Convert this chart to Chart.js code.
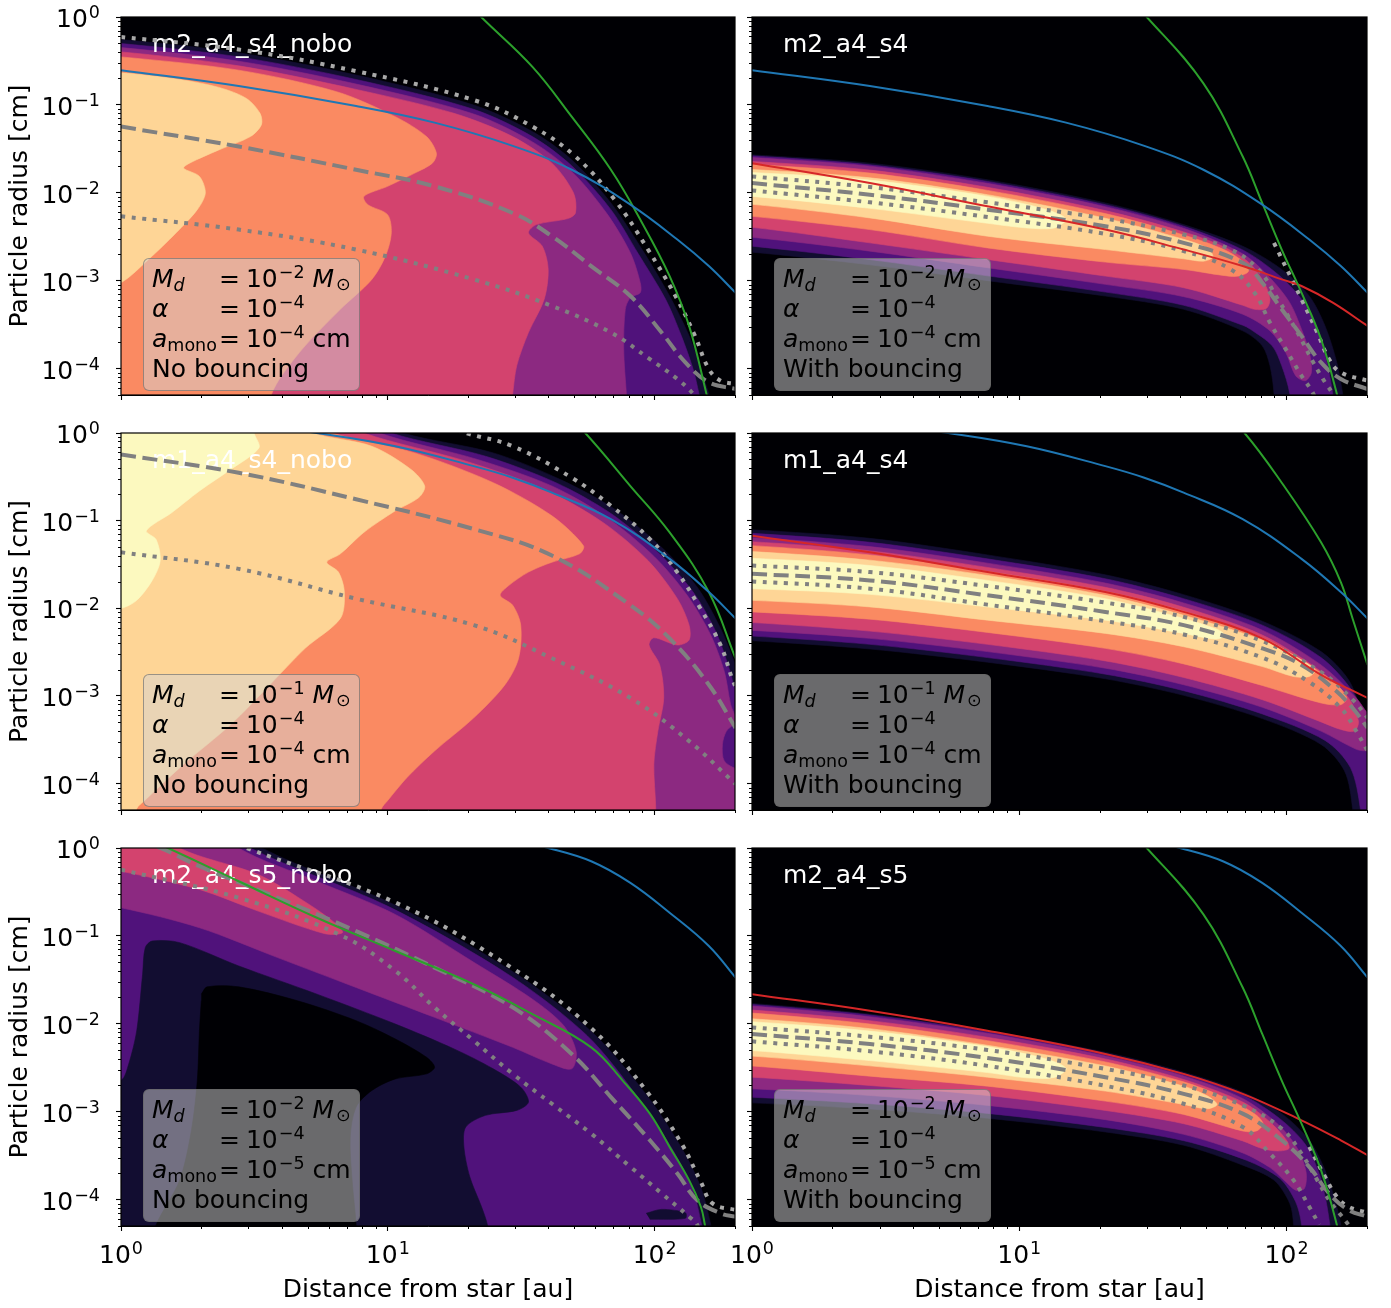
<!DOCTYPE html>
<html lang="en">
<head>
<meta charset="utf-8">
<title>Particle size distributions</title>
<script src="https://cdn.jsdelivr.net/npm/chart.js@4.4.1/dist/chart.umd.min.js"></script>
<style>
  body { margin: 0; background: #fff; }
  #figure { position: relative; width: 1391px; height: 1308px; font-family: 'DejaVu Sans', sans-serif; }
  #figure canvas { position: absolute; }
  .infoBox {
    position: absolute; width: 217px; height: 133px; box-sizing: border-box;
    padding: 5px 0 0 8px; border: 1.5px solid rgba(100, 100, 100, 0.6); border-radius: 6px;
    background: rgba(211, 211, 211, 0.5); font-size: 25px; line-height: 30px; color: #000; white-space: nowrap;
  }
  .infoBox .row { height: 30px; }
  .infoBox .key { display: inline-block; width: 67px; }
  .infoBox .eq { margin-right: 6px; }
  .infoBox .up { font-size: 17.5px; position: relative; top: -9px; vertical-align: baseline; margin-left: 1px; }
  .infoBox .dn { font-size: 17.5px; position: relative; top: 4px; vertical-align: baseline; }
  .infoBox .sun { font-size: 17.5px; position: relative; top: 3px; vertical-align: baseline; margin-left: 2px; }
</style>
</head>
<body>
<div id="figure"></div>
<script>
// ---- ticks (log10 axes) ----
const xMajorTicks = [1, 10, 100];
const xTickExponents = ['0', '1', '2'];
const xMinorTicks = [2, 3, 4, 5, 6, 7, 8, 9, 20, 30, 40, 50, 60, 70, 80, 90, 200];
const yMajorTicks = [1, 0.1, 0.01, 0.001, 0.0001];
const yTickExponents = ['0', '−1', '−2', '−3', '−4'];
const yMinorTicks = [5e-5, 6e-5, 7e-5, 8e-5, 9e-5, 2e-4, 3e-4, 4e-4, 5e-4, 6e-4, 7e-4, 8e-4, 9e-4,
  2e-3, 3e-3, 4e-3, 5e-3, 6e-3, 7e-3, 8e-3, 9e-3, 0.02, 0.03, 0.04, 0.05, 0.06, 0.07, 0.08, 0.09,
  0.2, 0.3, 0.4, 0.5, 0.6, 0.7, 0.8, 0.9];

// ---- runs ----
const runNames = ['m2_a4_s4_nobo', 'm2_a4_s4', 'm1_a4_s4_nobo', 'm1_a4_s4', 'm2_a4_s5_nobo', 'm2_a4_s5'];
const diskMassExp = ['−2', '−2', '−1', '−1', '−2', '−2'];
const alphaExp = ['−4', '−4', '−4', '−4', '−4', '−4'];
const monomerExp = ['−4', '−4', '−4', '−4', '−5', '−5'];
const bouncingText = ['No bouncing', 'With bouncing', 'No bouncing', 'With bouncing', 'No bouncing', 'With bouncing'];

// ---- contour outlines, [log10 r/au, log10 a/cm] ----
// m2_a4_s4_nobo
const m2s4noboNavy = [[-0.1,-0.26],[0,-0.257],[0.441,-0.408],[0.881,-0.661],[1.322,-1.002],[1.542,-1.304],[1.689,-1.625],[1.836,-2.116],[1.953,-2.646],[2.056,-3.175],[2.129,-3.628],[2.173,-4.006],[2.203,-4.286],[2.23,-4.5],[-0.1,-4.5]];
const m2s4noboIndigo = [[-0.1,-0.30],[0,-0.302],[0.441,-0.454],[0.881,-0.711],[1.322,-1.051],[1.542,-1.361],[1.689,-1.693],[1.836,-2.192],[1.938,-2.691],[2.041,-3.212],[2.100,-3.628],[2.144,-4.006],[2.166,-4.286],[2.18,-4.5],[-0.1,-4.5]];
const m2s4noboPurple = [[-0.1,-0.35],[0,-0.348],[0.441,-0.503],[0.881,-0.763],[1.322,-1.104],[1.542,-1.421],[1.689,-1.757],[1.821,-2.237],[1.909,-2.683],[1.946,-3.023],[1.946,-3.137],[1.909,-3.193],[1.890,-3.326],[1.884,-3.779],[1.894,-4.286],[1.9,-4.5],[-0.1,-4.5]];
const m2s4noboPink = [[-0.1,-0.40],[0,-0.397],[0.441,-0.556],[0.881,-0.824],[1.248,-1.096],[1.468,-1.361],[1.615,-1.663],[1.696,-2.003],[1.703,-2.230],[1.674,-2.294],[1.557,-2.362],[1.527,-2.457],[1.579,-2.608],[1.601,-2.872],[1.586,-3.212],[1.527,-3.590],[1.483,-3.968],[1.468,-4.286],[1.46,-4.5],[-0.1,-4.5]];
const m2s4noboSalmon = [[-0.1,-0.45],[0,-0.454],[0.441,-0.605],[0.808,-0.850],[1.028,-1.134],[1.145,-1.361],[1.182,-1.550],[1.167,-1.663],[1.101,-1.776],[0.999,-1.927],[0.910,-2.041],[0.925,-2.135],[0.999,-2.249],[1.013,-2.457],[0.991,-2.721],[0.940,-2.986],[0.822,-3.326],[0.690,-3.741],[0.602,-4.082],[0.565,-4.286],[0.55,-4.5],[-0.1,-4.5]];
const m2s4noboPeach = [[-0.1,-0.63],[0,-0.635],[0.220,-0.711],[0.367,-0.801],[0.470,-0.926],[0.521,-1.096],[0.526,-1.228],[0.485,-1.361],[0.367,-1.512],[0.257,-1.663],[0.235,-1.720],[0.294,-1.814],[0.316,-2.003],[0.286,-2.192],[0.206,-2.457],[0.103,-2.759],[0,-3.023],[-0.1,-3.1]];
// m2_a4_s4
const m2s4Navy = [[-0.1,-1.56],[0,-1.568],[0.441,-1.663],[0.881,-1.852],[1.322,-2.116],[1.615,-2.362],[1.836,-2.608],[1.982,-2.872],[2.085,-3.175],[2.144,-3.515],[2.188,-3.930],[2.210,-4.286],[2.22,-4.5],[1.95,-4.5],[1.953,-4.286],[1.938,-3.968],[1.909,-3.741],[1.836,-3.571],[1.615,-3.326],[1.322,-3.175],[0.881,-3.000],[0.441,-2.820],[0,-2.676],[-0.1,-2.67]];
const m2s4Indigo = [[-0.1,-1.574],[0,-1.580],[0.441,-1.682],[0.881,-1.871],[1.322,-2.136],[1.615,-2.381],[1.836,-2.650],[1.968,-2.929],[2.056,-3.212],[2.115,-3.553],[2.151,-3.930],[2.173,-4.286],[2.18,-4.5],[2.01,-4.5],[2.012,-4.286],[1.982,-3.968],[1.946,-3.741],[1.865,-3.553],[1.836,-3.507],[1.615,-3.280],[1.322,-3.130],[0.881,-2.945],[0.441,-2.760],[0,-2.608],[-0.1,-2.60]];
const m2s4Purple = [[-0.1,-1.597],[0,-1.599],[0.441,-1.697],[0.881,-1.893],[1.322,-2.158],[1.615,-2.404],[1.836,-2.695],[1.938,-2.967],[2.012,-3.250],[2.056,-3.553],[2.085,-3.817],[2.093,-4.044],[2.070,-4.138],[2.034,-4.082],[1.997,-3.817],[1.938,-3.571],[1.836,-3.382],[1.615,-3.182],[1.322,-3.042],[0.881,-2.853],[0.441,-2.664],[0,-2.506],[-0.1,-2.50]];
const m2s4Pink = [[-0.1,-1.643],[0,-1.644],[0.441,-1.742],[0.881,-1.938],[1.322,-2.203],[1.615,-2.445],[1.762,-2.610],[1.858,-2.790],[1.916,-3.023],[1.938,-3.212],[1.924,-3.318],[1.880,-3.326],[1.836,-3.280],[1.615,-3.080],[1.322,-2.948],[0.881,-2.759],[0.441,-2.570],[0,-2.393],[-0.1,-2.39]];
const m2s4Salmon = [[-0.1,-1.682],[0,-1.678],[0.441,-1.776],[0.881,-1.973],[1.322,-2.237],[1.615,-2.480],[1.762,-2.640],[1.836,-2.780],[1.858,-2.891],[1.821,-2.948],[1.762,-2.940],[1.615,-2.872],[1.322,-2.789],[0.881,-2.627],[0.441,-2.419],[0,-2.268],[-0.1,-2.26]];
const m2s4Peach = [[-0.1,-1.73],[0,-1.735],[0.441,-1.830],[0.881,-2.022],[1.322,-2.290],[1.615,-2.530],[1.703,-2.630],[1.725,-2.729],[1.689,-2.778],[1.615,-2.751],[1.322,-2.646],[0.881,-2.494],[0.441,-2.286],[0,-2.131],[-0.1,-2.13]];
const m2s4Cream = [[-0.1,-1.767],[0,-1.769],[0.441,-1.856],[0.881,-2.041],[1.101,-2.190],[1.175,-2.300],[1.131,-2.400],[1.028,-2.400],[0.881,-2.347],[0.441,-2.177],[0,-2.041],[-0.1,-2.04]];
// m1_a4_s4_nobo
const m1s4noboNavy = [[0.95,0.2],[1.03,0.11],[1.057,0],[1.395,-0.227],[1.645,-0.529],[1.850,-0.869],[2.026,-1.304],[2.159,-1.757],[2.247,-2.230],[2.303,-2.646],[2.35,-3.02],[2.4,-4.5],[-0.1,-4.5],[-0.1,0.2]];
const m1s4noboIndigo = [[0.95,0.2],[0.99,0.11],[1.013,0],[1.366,-0.265],[1.630,-0.567],[1.836,-0.918],[2.012,-1.361],[2.144,-1.814],[2.232,-2.286],[2.283,-2.721],[2.303,-2.910],[2.4,-3.2],[2.4,-4.5],[-0.1,-4.5],[-0.1,0.2]];
const m1s4noboPurple = [[0.92,0.2],[0.95,0.11],[0.969,0],[1.336,-0.302],[1.615,-0.605],[1.821,-0.964],[1.997,-1.406],[2.122,-1.852],[2.210,-2.305],[2.261,-2.721],[2.285,-3.099],[2.305,-3.288],[2.269,-3.401],[2.254,-3.553],[2.261,-3.741],[2.313,-3.836],[2.4,-3.85],[2.4,-4.5],[-0.1,-4.5],[-0.1,0.2]];
const m1s4noboPink = [[0.88,0.2],[0.89,0.11],[0.910,0],[1.292,-0.321],[1.586,-0.642],[1.806,-1.020],[1.975,-1.455],[2.085,-1.890],[2.129,-2.192],[2.129,-2.362],[2.085,-2.419],[1.997,-2.336],[1.979,-2.419],[2.019,-2.646],[2.034,-3.023],[2.012,-3.401],[1.997,-3.779],[2.004,-4.286],[2.0,-4.5],[-0.1,-4.5],[-0.1,0.2]];
const m1s4noboSalmon = [[0.76,0.2],[0.77,0.11],[0.793,0],[1.101,-0.227],[1.395,-0.567],[1.615,-0.945],[1.733,-1.285],[1.718,-1.379],[1.615,-1.474],[1.527,-1.587],[1.454,-1.738],[1.421,-1.852],[1.468,-1.965],[1.498,-2.192],[1.490,-2.570],[1.439,-2.872],[1.322,-3.250],[1.175,-3.628],[1.072,-3.930],[0.999,-4.195],[0.976,-4.286],[0.96,-4.5],[-0.1,-4.5],[-0.1,0.2]];
const m1s4noboPeach = [[0.70,0.2],[0.70,0.11],[0.720,0],[0.940,-0.151],[1.087,-0.416],[1.138,-0.605],[1.116,-0.737],[1.028,-0.888],[0.910,-1.134],[0.822,-1.379],[0.771,-1.474],[0.815,-1.587],[0.837,-1.814],[0.822,-2.116],[0.690,-2.457],[0.558,-2.872],[0.411,-3.326],[0.235,-3.779],[0.088,-4.195],[0.059,-4.286],[0.05,-4.5],[-0.1,-4.5],[-0.1,0.2]];
const m1s4noboCream = [[0.5,0.2],[0.5,0.11],[0.499,0],[0.517,-0.170],[0.411,-0.416],[0.294,-0.661],[0.191,-0.907],[0.095,-1.115],[0.132,-1.217],[0.147,-1.455],[0.117,-1.682],[0.059,-1.909],[0,-2.003],[-0.1,-2.05],[-0.1,0.2]];
// m1_a4_s4
const m1s4Navy = [[-0.1,-1.10],[0,-1.104],[0.441,-1.202],[0.881,-1.391],[1.322,-1.618],[1.615,-1.844],[1.909,-2.147],[2.129,-2.494],[2.232,-2.816],[2.283,-3.212],[2.303,-3.477],[2.35,-3.8],[2.35,-4.5],[2.24,-4.5],[2.247,-4.286],[2.217,-3.855],[2.129,-3.553],[1.909,-3.258],[1.615,-2.993],[1.322,-2.804],[0.881,-2.615],[0.441,-2.464],[0,-2.370],[-0.1,-2.37]];
const m1s4Indigo = [[-0.1,-1.145],[0,-1.145],[0.441,-1.247],[0.881,-1.436],[1.322,-1.663],[1.615,-1.890],[1.909,-2.192],[2.129,-2.562],[2.247,-2.948],[2.291,-3.288],[2.303,-3.401],[2.35,-3.6],[2.35,-4.5],[2.27,-4.5],[2.276,-4.286],[2.239,-3.817],[2.144,-3.507],[1.909,-3.205],[1.615,-2.940],[1.322,-2.751],[0.881,-2.562],[0.441,-2.411],[0,-2.317],[-0.1,-2.317]];
const m1s4Purple = [[-0.1,-1.195],[0,-1.194],[0.441,-1.296],[0.881,-1.485],[1.322,-1.712],[1.615,-1.939],[1.909,-2.249],[2.129,-2.646],[2.261,-3.023],[2.303,-3.193],[2.35,-3.3],[2.35,-3.63],[2.303,-3.628],[2.261,-3.609],[2.129,-3.401],[1.909,-3.129],[1.615,-2.872],[1.322,-2.683],[0.881,-2.494],[0.441,-2.343],[0,-2.252],[-0.1,-2.252]];
const m1s4Pink = [[-0.1,-1.24],[0,-1.240],[0.441,-1.345],[0.881,-1.534],[1.322,-1.761],[1.615,-1.988],[1.909,-2.305],[2.129,-2.721],[2.232,-3.023],[2.269,-3.288],[2.254,-3.401],[2.203,-3.382],[2.129,-3.296],[1.909,-3.042],[1.615,-2.789],[1.322,-2.600],[0.881,-2.411],[0.441,-2.260],[0,-2.162],[-0.1,-2.16]];
const m1s4Salmon = [[-0.1,-1.285],[0,-1.285],[0.441,-1.391],[0.881,-1.580],[1.322,-1.807],[1.615,-2.033],[1.909,-2.336],[2.085,-2.646],[2.188,-2.872],[2.225,-3.023],[2.203,-3.099],[2.129,-3.080],[1.909,-2.880],[1.615,-2.634],[1.322,-2.457],[0.881,-2.275],[0.441,-2.124],[0,-2.041],[-0.1,-2.04]];
const m1s4Peach = [[-0.1,-1.353],[0,-1.353],[0.441,-1.451],[0.881,-1.625],[1.322,-1.852],[1.615,-2.079],[1.909,-2.362],[2.056,-2.589],[2.107,-2.702],[2.085,-2.778],[2.026,-2.778],[1.909,-2.664],[1.615,-2.438],[1.322,-2.286],[0.881,-2.135],[0.441,-1.984],[0,-1.909],[-0.1,-1.909]];
const m1s4Cream = [[-0.1,-1.43],[0,-1.429],[0.441,-1.512],[0.881,-1.682],[1.322,-1.890],[1.615,-2.116],[1.747,-2.249],[1.769,-2.313],[1.733,-2.351],[1.615,-2.286],[1.322,-2.135],[0.881,-1.984],[0.441,-1.841],[0,-1.776],[-0.1,-1.776]];
// m2_a4_s5_nobo
const m2s5noboNavy = [[0.5,0.2],[0.529,0],[1.028,-0.650],[1.468,-1.406],[1.762,-2.086],[1.968,-2.804],[2.100,-3.409],[2.173,-3.862],[2.210,-4.286],[2.22,-4.5],[-0.1,-4.5],[-0.1,0.2]];
const m2s5noboIndigo = [[0.45,0.2],[0.485,0],[0.999,-0.661],[1.454,-1.444],[1.747,-2.135],[1.938,-2.842],[2.070,-3.447],[2.144,-3.900],[2.176,-4.286],[2.19,-4.5],[-0.1,-4.5],[-0.1,0.2]];
const m2s5noboNavyCore = [[-0.1,-2.70],[0,-2.646],[0.029,-2.457],[0.059,-2.079],[0.081,-1.436],[0.091,-1.134],[0.117,-1.058],[0.220,-1.077],[0.441,-1.342],[0.734,-1.663],[1.028,-2.003],[1.248,-2.286],[1.395,-2.513],[1.498,-2.721],[1.527,-2.891],[1.483,-2.986],[1.366,-3.042],[1.292,-3.175],[1.285,-3.401],[1.307,-3.741],[1.351,-4.082],[1.373,-4.286],[1.38,-4.5],[-0.1,-4.5]];
const m2s5noboVoid = [[0.301,-1.663],[0.323,-1.580],[0.441,-1.580],[0.661,-1.738],[0.881,-1.965],[1.028,-2.173],[1.145,-2.381],[1.175,-2.494],[1.145,-2.570],[1.028,-2.627],[0.940,-2.759],[0.881,-2.948],[0.859,-3.288],[0.866,-3.779],[0.881,-4.286],[0.88,-4.5],[0.12,-4.5],[0.132,-4.286],[0.220,-3.779],[0.264,-3.212],[0.286,-2.646],[0.294,-2.079],[0.301,-1.738]];
const m2s5noboNavySpot = [[1.968,-4.157],[2.026,-4.112],[2.115,-4.150],[2.115,-4.214],[1.982,-4.225]];
const m2s5noboPurple = [[-0.1,0.2],[0.42,0.2],[0.441,0],[0.734,-0.378],[1.028,-0.756],[1.322,-1.30],[1.542,-1.72],[1.659,-2.02],[1.706,-2.32],[1.689,-2.513],[1.615,-2.457],[1.468,-2.268],[1.175,-1.927],[0.881,-1.587],[0.587,-1.247],[0.294,-0.907],[0,-0.680],[-0.1,-0.66]];
const m2s5noboPink = [[-0.1,0.2],[0.2,0.2],[0.220,0],[0.514,-0.302],[0.705,-0.642],[0.808,-0.869],[0.830,-0.964],[0.764,-0.975],[0.514,-0.718],[0.294,-0.472],[0,-0.265],[-0.1,-0.24]];
// m2_a4_s5
const m2s5Navy = [[-0.1,-1.768],[0,-1.769],[0.441,-1.890],[0.881,-2.079],[1.322,-2.324],[1.615,-2.551],[1.836,-2.778],[1.982,-3.023],[2.085,-3.326],[2.144,-3.666],[2.181,-4.006],[2.203,-4.286],[2.21,-4.5],[2.02,-4.5],[2.026,-4.286],[2.012,-4.044],[1.953,-3.779],[1.836,-3.609],[1.615,-3.382],[1.322,-3.231],[0.881,-3.075],[0.441,-2.970],[0,-2.900],[-0.1,-2.90]];
const m2s5Indigo = [[-0.1,-1.781],[0,-1.781],[0.441,-1.901],[0.881,-2.090],[1.322,-2.344],[1.615,-2.570],[1.836,-2.810],[1.975,-3.080],[2.070,-3.371],[2.122,-3.704],[2.147,-4.006],[2.162,-4.286],[2.17,-4.5],[2.05,-4.5],[2.056,-4.286],[2.034,-4.025],[1.975,-3.760],[1.850,-3.553],[1.615,-3.330],[1.322,-3.180],[0.881,-3.020],[0.441,-2.910],[0,-2.836],[-0.1,-2.836]];
const m2s5Purple = [[-0.1,-1.799],[0,-1.799],[0.441,-1.920],[0.881,-2.109],[1.322,-2.366],[1.615,-2.593],[1.836,-2.850],[1.968,-3.144],[2.041,-3.420],[2.073,-3.685],[2.067,-3.874],[2.034,-3.893],[1.997,-3.798],[1.938,-3.636],[1.836,-3.469],[1.615,-3.258],[1.322,-3.091],[0.881,-2.929],[0.441,-2.816],[0,-2.740],[-0.1,-2.74]];
const m2s5Pink = [[-0.1,-1.844],[0,-1.844],[0.441,-1.965],[0.881,-2.154],[1.322,-2.400],[1.615,-2.634],[1.836,-2.890],[1.938,-3.118],[2.000,-3.326],[2.009,-3.420],[1.968,-3.447],[1.909,-3.420],[1.836,-3.333],[1.615,-3.137],[1.322,-2.986],[0.881,-2.816],[0.441,-2.702],[0,-2.608],[-0.1,-2.608]];
const m2s5Salmon = [[-0.1,-1.878],[0,-1.878],[0.441,-2.003],[0.881,-2.192],[1.322,-2.434],[1.615,-2.661],[1.762,-2.830],[1.880,-3.023],[1.912,-3.137],[1.887,-3.220],[1.836,-3.220],[1.615,-3.031],[1.322,-2.880],[0.881,-2.710],[0.441,-2.596],[0,-2.480],[-0.1,-2.48]];
const m2s5Peach = [[-0.1,-1.943],[0,-1.943],[0.441,-2.056],[0.881,-2.245],[1.322,-2.480],[1.615,-2.710],[1.703,-2.820],[1.740,-2.918],[1.703,-2.967],[1.615,-2.918],[1.322,-2.766],[0.881,-2.608],[0.441,-2.479],[0,-2.368],[-0.1,-2.368]];
const m2s5Cream = [[-0.1,-1.977],[0,-1.977],[0.441,-2.083],[0.881,-2.260],[1.101,-2.400],[1.175,-2.510],[1.131,-2.610],[1.028,-2.615],[0.881,-2.555],[0.441,-2.419],[0,-2.305],[-0.1,-2.305]];

// ---- curves, [log10 r/au, log10 a/cm] ----
const blueM2s4 = [[0,-0.605],[0.441,-0.786],[0.881,-1.013],[1.175,-1.202],[1.468,-1.466],[1.689,-1.738],[1.909,-2.135],[2.085,-2.532],[2.203,-2.834],[2.303,-3.137]];
const blueM1s4 = [[0.441,0.113],[0.734,0],[1.028,-0.151],[1.322,-0.378],[1.468,-0.510],[1.615,-0.680],[1.836,-0.983],[2.056,-1.436],[2.203,-1.814],[2.303,-2.116]];
const blueM2s5 = [[1.395,0.151],[1.601,0],[1.762,-0.151],[1.909,-0.397],[2.056,-0.737],[2.203,-1.115],[2.303,-1.474]];
const greenM2s4nobo = [[1.292,0.189],[1.350,0],[1.542,-0.567],[1.689,-1.134],[1.836,-1.738],[1.953,-2.343],[2.056,-2.948],[2.129,-3.515],[2.194,-4.286],[2.21,-4.5]];
const greenM2bounce = [[1.410,0.189],[1.477,0],[1.689,-0.756],[1.836,-1.587],[1.909,-2.116],[1.982,-2.646],[2.056,-3.137],[2.129,-3.666],[2.188,-4.286],[2.20,-4.5]];
const greenM1s4nobo = [[1.659,0.227],[1.740,0],[1.909,-0.605],[2.056,-1.134],[2.203,-1.814],[2.303,-2.570]];
const greenM1s4 = [[1.762,0.227],[1.843,0],[1.982,-0.567],[2.129,-1.247],[2.203,-1.701],[2.247,-2.116],[2.303,-2.646]];
const greenM2s5nobo = [[0.029,0.189],[0.176,0],[0.441,-0.378],[0.734,-0.794],[1.028,-1.172],[1.322,-1.550],[1.542,-1.890],[1.762,-2.268],[1.880,-2.646],[1.982,-3.023],[2.056,-3.401],[2.129,-3.779],[2.173,-4.082],[2.188,-4.286],[2.2,-4.5]];
const redM2s4 = [[0,-1.663],[0.441,-1.890],[0.881,-2.154],[1.322,-2.419],[1.615,-2.646],[1.836,-2.834],[1.982,-2.986],[2.056,-3.061],[2.173,-3.250],[2.303,-3.515]];
const redM1s4 = [[0,-1.172],[0.441,-1.361],[0.881,-1.587],[1.322,-1.814],[1.615,-2.041],[1.909,-2.343],[2.129,-2.759],[2.303,-3.023]];
const redM2s5 = [[0,-1.663],[0.441,-1.852],[0.881,-2.079],[1.322,-2.343],[1.615,-2.570],[1.836,-2.797],[2.056,-3.099],[2.203,-3.326],[2.303,-3.496]];

const m2s4noboOuterDots = [[0,-0.227],[0.441,-0.370],[0.881,-0.616],[1.322,-0.945],[1.542,-1.247],[1.703,-1.587],[1.850,-2.079],[1.975,-2.646],[2.078,-3.175],[2.151,-3.628],[2.203,-4.006],[2.247,-4.138],[2.303,-4.176]];
const m2s4noboDashed = [[0,-1.247],[0.441,-1.474],[0.881,-1.738],[1.175,-1.927],[1.468,-2.230],[1.615,-2.494],[1.762,-2.834],[1.909,-3.175],[2.026,-3.590],[2.115,-3.930],[2.203,-4.157],[2.303,-4.233]];
const m2s4noboInnerDots = [[0,-2.268],[0.441,-2.419],[0.881,-2.646],[1.322,-2.986],[1.615,-3.288],[1.836,-3.590],[1.982,-3.893],[2.085,-4.119],[2.144,-4.286],[2.2,-4.5]];
const m2s4Dashed = [[0,-1.890],[0.441,-2.022],[0.881,-2.192],[1.322,-2.381],[1.615,-2.570],[1.836,-2.797],[1.909,-3.023],[1.982,-3.326],[2.056,-3.628],[2.129,-3.930],[2.203,-4.119],[2.303,-4.233]];
const m2s4UpperDots = [[0,-1.814],[0.441,-1.935],[0.881,-2.109],[1.322,-2.294],[1.615,-2.475],[1.791,-2.646],[1.894,-2.872],[1.968,-3.212],[2.041,-3.590],[2.100,-3.930],[2.144,-4.157],[2.173,-4.286],[2.19,-4.4]];
const m2s4LowerDots = [[0,-1.973],[0.441,-2.109],[0.881,-2.275],[1.322,-2.468],[1.615,-2.664],[1.791,-2.872],[1.880,-3.137],[1.938,-3.477],[1.997,-3.779],[2.056,-4.082],[2.100,-4.286],[2.11,-4.4]];
const m2s4OuterDots = [[1.953,-2.570],[2.056,-3.212],[2.115,-3.590],[2.159,-3.893],[2.203,-4.044],[2.303,-4.138]];
const m1s4noboOuterDots = [[1.145,0.151],[1.292,0],[1.468,-0.151],[1.689,-0.510],[1.836,-0.830],[1.982,-1.210],[2.085,-1.590],[2.173,-2.010],[2.247,-2.420],[2.290,-2.800],[2.303,-2.90]];
const m1s4noboDashed = [[0,-0.246],[0.441,-0.454],[0.881,-0.756],[1.322,-1.096],[1.615,-1.398],[1.909,-1.965],[2.056,-2.343],[2.203,-2.872],[2.303,-3.364]];
const m1s4noboInnerDots = [[0,-1.361],[0.441,-1.550],[0.881,-1.890],[1.322,-2.192],[1.615,-2.570],[1.909,-3.023],[2.129,-3.515],[2.303,-4.006]];
const m1s4Dashed = [[0,-1.606],[0.441,-1.682],[0.881,-1.852],[1.322,-2.041],[1.615,-2.192],[1.909,-2.457],[2.056,-2.646],[2.173,-2.910],[2.247,-3.137],[2.303,-3.364]];
const m1s4UpperDots = [[0,-1.512],[0.441,-1.587],[0.881,-1.746],[1.322,-1.935],[1.615,-2.098],[1.909,-2.373],[2.129,-2.729],[2.247,-3.042],[2.303,-3.250]];
const m1s4LowerDots = [[0,-1.693],[0.441,-1.776],[0.881,-1.958],[1.322,-2.147],[1.615,-2.298],[1.909,-2.562],[2.085,-2.842],[2.203,-3.137],[2.261,-3.401],[2.303,-3.628]];
const m2s5noboOuterDots = [[0.40,0.1],[0.47,0],[1.028,-0.62],[1.468,-1.37],[1.762,-2.05],[1.968,-2.76],[2.100,-3.36],[2.173,-3.80],[2.217,-4.044],[2.303,-4.119]];
const m2s5noboDashed = [[0.059,0.076],[0.147,0],[0.294,-0.208],[0.587,-0.567],[0.881,-0.945],[1.175,-1.361],[1.468,-1.814],[1.689,-2.343],[1.836,-2.834],[1.982,-3.326],[2.085,-3.704],[2.159,-4.006],[2.247,-4.157],[2.303,-4.195]];
const m2s5noboInnerDots = [[0,-0.246],[0.441,-0.567],[0.822,-0.990],[1.028,-1.398],[1.175,-1.814],[1.322,-2.192],[1.468,-2.570],[1.615,-2.910],[1.762,-3.250],[1.909,-3.628],[2.026,-3.930],[2.129,-4.195],[2.159,-4.286],[2.18,-4.5]];
const m2s5Dashed = [[0,-2.116],[0.441,-2.230],[0.881,-2.389],[1.322,-2.608],[1.615,-2.797],[1.836,-3.023],[1.982,-3.326],[2.085,-3.628],[2.159,-3.930],[2.232,-4.119],[2.303,-4.195]];
const m2s5UpperDots = [[0,-2.041],[0.441,-2.147],[0.881,-2.298],[1.322,-2.513],[1.615,-2.702],[1.836,-2.929],[1.982,-3.193],[2.056,-3.477],[2.115,-3.779],[2.159,-4.006],[2.203,-4.176],[2.232,-4.286]];
const m2s5LowerDots = [[0,-2.200],[0.441,-2.313],[0.881,-2.479],[1.322,-2.706],[1.615,-2.910],[1.836,-3.175],[1.938,-3.477],[2.026,-3.779],[2.085,-4.082],[2.122,-4.286]];
const m2s5OuterDots = [[2.085,-3.401],[2.144,-3.741],[2.188,-3.968],[2.232,-4.082],[2.303,-4.150]];

// ---- styles ----
const levelColors = {
  navy: '#120d31', indigo: '#50127b', purple: '#8c2981', pink: '#d3436e',
  salmon: '#fa8a62', peach: '#fed596', cream: '#fcf9bf', empty: '#000004'
};
const lineStyles = {
  blue: { color: '#1f77b4', width: 2, dash: [] },
  green: { color: '#2ca02c', width: 2, dash: [] },
  red: { color: '#d62728', width: 2, dash: [] },
  dashed: { color: '#808080', width: 4, dash: [15, 6.5] },
  dots: { color: '#808080', width: 4, dash: [4, 6.6] },
  lightDots: { color: '#a9a9a9', width: 4, dash: [4, 6.6] }
};
const FONT = "'DejaVu Sans'";

// canvas slots: page position of each canvas and the margins around its plot area
const slots = [
  { left: 0,   top: 0,   width: 745, height: 415, padTop: 17, padRight: 10, yAxis: 121, xAxis: 20 },
  { left: 700, top: 0,   width: 691, height: 415, padTop: 17, padRight: 24, yAxis: 52,  xAxis: 20 },
  { left: 0,   top: 415, width: 745, height: 415, padTop: 18, padRight: 10, yAxis: 121, xAxis: 20 },
  { left: 700, top: 415, width: 691, height: 415, padTop: 18, padRight: 24, yAxis: 52,  xAxis: 20 },
  { left: 0,   top: 830, width: 745, height: 478, padTop: 18, padRight: 10, yAxis: 121, xAxis: 82 },
  { left: 700, top: 830, width: 691, height: 478, padTop: 18, padRight: 24, yAxis: 52,  xAxis: 82 }
];

const panels = [
  { bands: [[m2s4noboNavy, 'navy'], [m2s4noboIndigo, 'indigo'], [m2s4noboPurple, 'purple'], [m2s4noboPink, 'pink'], [m2s4noboSalmon, 'salmon'], [m2s4noboPeach, 'peach']],
    lines: [[blueM2s4, 'blue'], [greenM2s4nobo, 'green'], [m2s4noboDashed, 'dashed'], [m2s4noboInnerDots, 'dots'], [m2s4noboOuterDots, 'lightDots']] },
  { bands: [[m2s4Navy, 'navy'], [m2s4Indigo, 'indigo'], [m2s4Purple, 'purple'], [m2s4Pink, 'pink'], [m2s4Salmon, 'salmon'], [m2s4Peach, 'peach'], [m2s4Cream, 'cream']],
    lines: [[blueM2s4, 'blue'], [greenM2bounce, 'green'], [redM2s4, 'red'], [m2s4Dashed, 'dashed'], [m2s4UpperDots, 'dots'], [m2s4LowerDots, 'dots'], [m2s4OuterDots, 'lightDots']] },
  { bands: [[m1s4noboNavy, 'navy'], [m1s4noboIndigo, 'indigo'], [m1s4noboPurple, 'purple'], [m1s4noboPink, 'pink'], [m1s4noboSalmon, 'salmon'], [m1s4noboPeach, 'peach'], [m1s4noboCream, 'cream']],
    lines: [[blueM1s4, 'blue'], [greenM1s4nobo, 'green'], [m1s4noboDashed, 'dashed'], [m1s4noboInnerDots, 'dots'], [m1s4noboOuterDots, 'lightDots']] },
  { bands: [[m1s4Navy, 'navy'], [m1s4Indigo, 'indigo'], [m1s4Purple, 'purple'], [m1s4Pink, 'pink'], [m1s4Salmon, 'salmon'], [m1s4Peach, 'peach'], [m1s4Cream, 'cream']],
    lines: [[blueM1s4, 'blue'], [greenM1s4, 'green'], [redM1s4, 'red'], [m1s4Dashed, 'dashed'], [m1s4UpperDots, 'dots'], [m1s4LowerDots, 'dots']] },
  { bands: [[m2s5noboNavy, 'navy'], [m2s5noboIndigo, 'indigo'], [m2s5noboNavyCore, 'navy'], [m2s5noboVoid, 'empty'], [m2s5noboNavySpot, 'navy'], [m2s5noboPurple, 'purple'], [m2s5noboPink, 'pink']],
    lines: [[blueM2s5, 'blue'], [greenM2s5nobo, 'green'], [m2s5noboDashed, 'dashed'], [m2s5noboInnerDots, 'dots'], [m2s5noboOuterDots, 'lightDots']] },
  { bands: [[m2s5Navy, 'navy'], [m2s5Indigo, 'indigo'], [m2s5Purple, 'purple'], [m2s5Pink, 'pink'], [m2s5Salmon, 'salmon'], [m2s5Peach, 'peach'], [m2s5Cream, 'cream']],
    lines: [[blueM2s5, 'blue'], [greenM2bounce, 'green'], [redM2s5, 'red'], [m2s5Dashed, 'dashed'], [m2s5UpperDots, 'dots'], [m2s5LowerDots, 'dots'], [m2s5OuterDots, 'lightDots']] }
];

Chart.defaults.font.family = FONT + ", sans-serif";
Chart.defaults.color = '#000';

function toXY(pts) {
  return pts.map(p => ({ x: Math.pow(10, p[0]), y: Math.pow(10, p[1]) }));
}

function band(pts, color) {
  return { data: toXY(pts), fill: 'shape', backgroundColor: color, borderColor: color, borderWidth: 0.6,
           pointRadius: 0, tension: 0.3, clip: 0 };
}

function curve(pts, style) {
  return { data: toXY(pts), fill: false, borderColor: style.color, borderWidth: style.width,
           borderDash: style.dash, borderCapStyle: 'butt', pointRadius: 0, tension: 0.4, clip: 0 };
}

// "10" with a raised exponent; align is 'right' or 'center' around x
function powerLabel(ctx, exp, x, baseline, align) {
  ctx.font = '25px ' + FONT;
  const wBase = ctx.measureText('10').width;
  ctx.font = '17.5px ' + FONT;
  const wExp = ctx.measureText(exp).width;
  const total = wBase + 1 + wExp;
  const x0 = align === 'right' ? x - total : x - total / 2;
  ctx.font = '25px ' + FONT;
  ctx.fillText('10', x0, baseline);
  ctx.font = '17.5px ' + FONT;
  ctx.fillText(exp, x0 + wBase + 1, baseline - 8.7);
}

// black plot background, run label under the curves, tick labels, minor ticks and frame
const panelDecor = {
  id: 'panelDecor',
  beforeDraw(chart) {
    const { ctx, chartArea: a } = chart;
    ctx.save();
    ctx.fillStyle = levelColors.empty;
    ctx.fillRect(a.left, a.top, a.width, a.height);
    ctx.restore();
  },
  beforeDatasetDraw(chart, args, opts) {
    if (args.index !== opts.labelBefore) return;
    const { ctx, chartArea: a } = chart;
    ctx.save();
    ctx.fillStyle = '#ffffff';
    ctx.font = '25px ' + FONT;
    ctx.textBaseline = 'alphabetic';
    ctx.fillText(opts.label, a.left + 31, a.top + 35);
    ctx.restore();
  },
  afterDraw(chart, args, opts) {
    const { ctx, chartArea: a, scales } = chart;
    ctx.save();
    ctx.strokeStyle = '#000';
    ctx.lineWidth = 1;
    ctx.beginPath();
    xMinorTicks.forEach(v => {
      const px = Math.round(scales.x.getPixelForValue(v)) + 0.5;
      ctx.moveTo(px, a.bottom);
      ctx.lineTo(px, a.bottom + 3);
    });
    yMinorTicks.forEach(v => {
      const py = Math.round(scales.y.getPixelForValue(v)) + 0.5;
      ctx.moveTo(a.left - 3, py);
      ctx.lineTo(a.left, py);
    });
    ctx.stroke();
    ctx.lineWidth = 1.2;
    ctx.strokeRect(a.left, a.top, a.width, a.height);

    ctx.fillStyle = '#000';
    ctx.textBaseline = 'alphabetic';
    ctx.textAlign = 'left';
    if (opts.yLabels) {
      yMajorTicks.forEach((v, k) => powerLabel(ctx, yTickExponents[k], a.left - 21, scales.y.getPixelForValue(v) + 10, 'right'));
    }
    if (opts.xLabels) {
      xMajorTicks.forEach((v, k) => powerLabel(ctx, xTickExponents[k], scales.x.getPixelForValue(v), a.bottom + 37, 'center'));
    }
    ctx.restore();
  }
};

function makePanel(i) {
  const slot = slots[i];
  const spec = panels[i];
  const leftCol = i % 2 === 0;
  const bottomRow = i >= 4;

  const canvas = document.createElement('canvas');
  canvas.width = slot.width;
  canvas.height = slot.height;
  canvas.style.left = slot.left + 'px';
  canvas.style.top = slot.top + 'px';
  document.getElementById('figure').appendChild(canvas);

  const lines = spec.lines.map(([pts, key]) => curve(pts, lineStyles[key]));
  const bands = spec.bands.map(([pts, key]) => band(pts, levelColors[key])).reverse();

  new Chart(canvas, {
    type: 'line',
    data: { datasets: lines.concat(bands) },
    options: {
      responsive: false,
      animation: false,
      events: [],
      layout: { autoPadding: false, padding: { top: slot.padTop, right: slot.padRight, left: 0, bottom: 0 } },
      elements: { line: { capBezierPoints: false }, point: { radius: 0 } },
      plugins: {
        legend: { display: false },
        tooltip: { enabled: false },
        panelDecor: { label: runNames[i], labelBefore: lines.length - 1, xLabels: bottomRow, yLabels: leftCol }
      },
      scales: {
        x: {
          type: 'logarithmic', min: 1, max: 200,
          afterBuildTicks: s => { s.ticks = xMajorTicks.map(v => ({ value: v })); },
          afterFit: s => { s.height = slot.xAxis; s.paddingLeft = 0; s.paddingRight = 0; },
          ticks: { autoSkip: false, maxRotation: 0, minRotation: 0, padding: 2, callback: () => '' },
          grid: { drawOnChartArea: false, drawTicks: true, tickLength: 5, tickWidth: 1.1, tickColor: '#000' },
          border: { display: true, color: '#000', width: 1 },
          title: { display: bottomRow, text: 'Distance from star [au]', color: '#000',
                   font: { size: 25 }, padding: { top: 0, bottom: 3 } }
        },
        y: {
          type: 'logarithmic', min: 5e-5, max: 1,
          afterBuildTicks: s => { s.ticks = yMajorTicks.map(v => ({ value: v })); },
          afterFit: s => { s.width = slot.yAxis; s.paddingTop = 0; s.paddingBottom = 0; },
          ticks: { autoSkip: false, padding: 2, callback: () => '' },
          grid: { drawOnChartArea: false, drawTicks: true, tickLength: 5, tickWidth: 1.1, tickColor: '#000' },
          border: { display: true, color: '#000', width: 1 },
          title: { display: leftCol, text: 'Particle radius [cm]', color: '#000',
                   font: { size: 25 }, padding: { top: 5, bottom: 0 } }
        }
      }
    },
    plugins: [panelDecor]
  });

  // parameter box in the lower left of the plot area
  const box = document.createElement('div');
  box.className = 'infoBox';
  box.style.left = (slot.left + slot.yAxis + 22) + 'px';
  box.style.top = (slot.top + slot.padTop + 241) + 'px';
  box.innerHTML =
    '<div class="row"><span class="key"><i>M</i><span class="dn"><i>d</i></span></span><span class="eq">=</span>10<span class="up">' + diskMassExp[i] + '</span> <i>M</i><span class="sun">⊙</span></div>' +
    '<div class="row"><span class="key"><i>α</i></span><span class="eq">=</span>10<span class="up">' + alphaExp[i] + '</span></div>' +
    '<div class="row"><span class="key"><i>a</i><span class="dn">mono</span></span><span class="eq">=</span>10<span class="up">' + monomerExp[i] + '</span> cm</div>' +
    '<div class="row">' + bouncingText[i] + '</div>';
  document.getElementById('figure').appendChild(box);
}

for (let i = 0; i < panels.length; i++) makePanel(i);
</script>
</body>
</html>
